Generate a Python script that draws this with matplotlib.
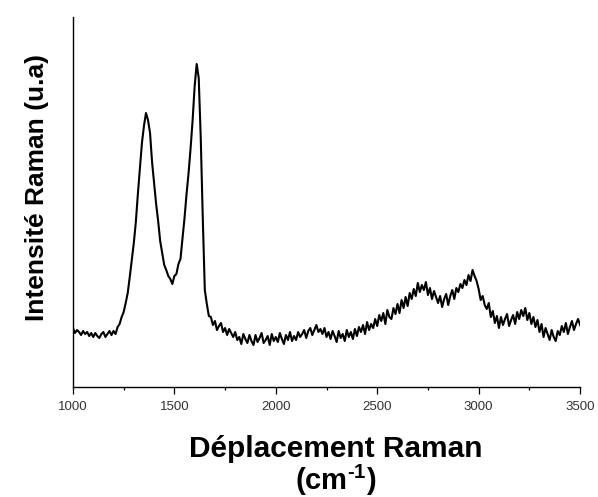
import matplotlib
matplotlib.use('Agg')
import matplotlib.pyplot as plt
import numpy as np

# Raman shift grid (cm-1), one reading every 10 cm-1
shift_start, shift_stop, shift_step = 1000, 3500, 10

# Intensity readings (a.u.), 10 per 100 cm-1 block
intensity = (
    [59, 54, 57, 55, 52, 56, 53, 55, 51, 54] +          # 1000
    [50, 54, 51, 49, 53, 55, 50, 53, 56, 52] +          # 1100
    [56, 53, 60, 63, 70, 75, 84, 94, 110, 127] +        # 1200
    [144, 165, 193, 219, 244, 261, 274, 267, 254, 225] +  # 1300 (D band)
    [204, 183, 166, 146, 134, 122, 117, 111, 108, 103] +  # 1400
    [111, 113, 123, 128, 149, 169, 193, 214, 239, 267] +  # 1500
    [301, 323, 309, 249, 169, 97, 83, 71, 70, 62] +     # 1600 (G band)
    [66, 57, 61, 64, 55, 59, 52, 58, 54, 50] +          # 1700
    [55, 47, 50, 43, 53, 48, 44, 52, 46, 42] +          # 1800
    [52, 45, 49, 54, 44, 47, 51, 42, 53, 46] +          # 1900
    [50, 45, 54, 48, 43, 52, 47, 55, 46, 51] +          # 2000
    [47, 55, 50, 53, 57, 49, 56, 59, 52, 57] +          # 2100
    [62, 55, 58, 53, 59, 50, 55, 48, 56, 51] +          # 2200
    [45, 56, 49, 53, 46, 57, 50, 55, 48, 58] +          # 2300
    [51, 60, 55, 62, 53, 65, 57, 63, 59, 68] +          # 2400
    [61, 72, 66, 74, 63, 77, 70, 68, 79, 73] +          # 2500
    [83, 74, 87, 79, 90, 81, 94, 88, 98, 91] +          # 2600
    [104, 95, 102, 97, 105, 92, 99, 88, 96, 90] +       # 2700 (2D)
    [84, 91, 80, 88, 93, 82, 91, 97, 88, 99] +          # 2800
    [95, 103, 99, 107, 102, 112, 106, 117, 111, 106] +  # 2900 (D+G)
    [98, 87, 91, 82, 78, 84, 70, 76, 64, 71] +          # 3000
    [59, 70, 62, 68, 73, 61, 67, 72, 63, 75] +          # 3100
    [68, 77, 71, 79, 67, 74, 63, 70, 60, 67] +          # 3200
    [55, 63, 50, 59, 53, 47, 57, 50, 46, 56] +          # 3300
    [52, 61, 55, 64, 53, 60, 66, 57, 63, 68] +          # 3400
    [62]
)
shift = np.arange(shift_start, shift_stop + shift_step, shift_step)

plt.rcParams['font.family'] = ['Liberation Sans', 'DejaVu Sans']
plt.rcParams['mathtext.fontset'] = 'custom'
plt.rcParams['mathtext.rm'] = 'Liberation Sans:bold'
plt.rcParams['mathtext.bf'] = 'Liberation Sans:bold'

fig = plt.figure(figsize=(5.98, 4.97), dpi=100)
ax = fig.add_axes([0.122, 0.2213, 0.848, 0.7445])

ax.plot(shift, intensity, color='black', lw=1.5)

ax.set_xlim(1000, 3500)
ax.set_ylim(0, 370)
ax.set_xticks(np.arange(1000, 3501, 500))
ax.set_xticks(np.arange(1250, 3500, 500), minor=True)
ax.set_yticks([])
ax.tick_params(axis='x', which='major', direction='out', length=5, width=0.9,
               labelsize=9.5, pad=5, labelcolor='#333333')
ax.tick_params(axis='x', which='minor', direction='out', length=2.5, width=0.9)

for side in ('top', 'right'):
    ax.spines[side].set_visible(False)
for side in ('left', 'bottom'):
    ax.spines[side].set_linewidth(1.0)

fig.text(0.561, 0.0795, 'Déplacement Raman', ha='center', va='baseline',
         fontsize=21.5, fontweight='bold')
fig.text(0.561, 0.014, r'(cm$^{\text{-1}}$)', ha='center', va='baseline',
         fontsize=21, fontweight='bold')
fig.text(0.062, 0.623, 'Intensité Raman (u.a)', rotation=90, ha='center',
         va='center', fontsize=19, fontweight='bold')

fig.savefig('out.png', dpi=100)
